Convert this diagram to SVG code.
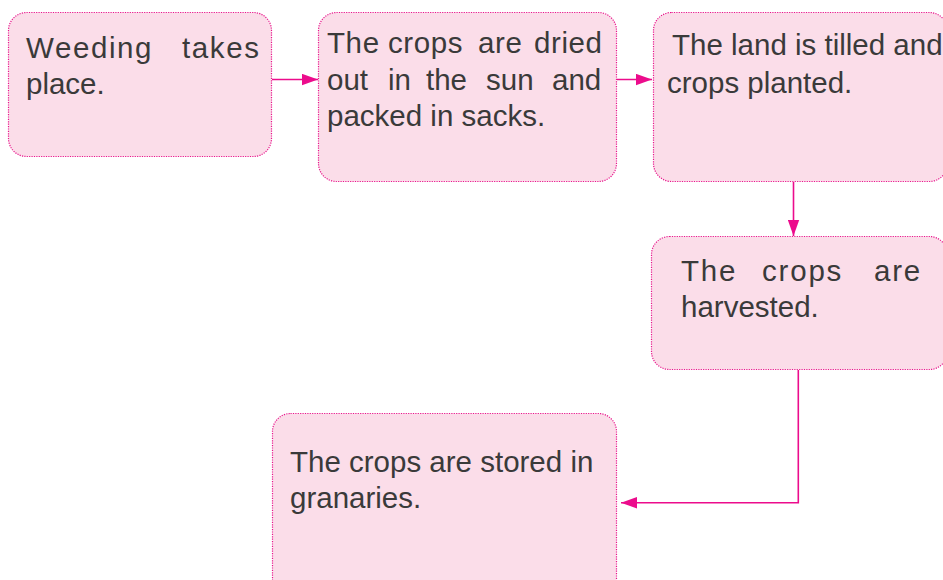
<svg xmlns="http://www.w3.org/2000/svg" width="943" height="580" viewBox="0 0 943 580">
<style>
.box{fill:#fbdde9;stroke:#e8168c;stroke-width:1.2;stroke-dasharray:1.2 1.2}
.t{font-family:"Liberation Sans",Arial,Helvetica,sans-serif;font-size:29.5px;fill:#3a3a3a}
.c{stroke:#ec0c8c;stroke-width:1.6;fill:none}
</style>
<defs>
<marker id="ah" markerWidth="16" markerHeight="12" refX="16" refY="6" orient="auto" markerUnits="userSpaceOnUse">
<path d="M0,0.3 L16,6 L0,11.7 Z" fill="#ec0c8c"/>
</marker>
</defs>
<rect width="943" height="580" fill="#ffffff"/>
<g id="connectors">
<line class="c" x1="272" y1="79.5" x2="318" y2="79.5" marker-end="url(#ah)"/>
<line class="c" x1="617" y1="79.5" x2="652" y2="79.5" marker-end="url(#ah)"/>
<line class="c" x1="793.5" y1="182" x2="793.5" y2="236" marker-end="url(#ah)"/>
<polyline class="c" points="798.3,370 798.3,502.7 621,502.7" marker-end="url(#ah)"/>
</g>
<g id="n1">
<rect class="box" x="8.5" y="12.5" width="263" height="144" rx="18"/>
<text class="t" y="58" letter-spacing="1.6"><tspan x="26">Weeding</tspan><tspan x="182">takes</tspan></text>
<text class="t" x="26" y="94">place.</text>
</g>
<g id="n2">
<rect class="box" x="318.5" y="12.5" width="298" height="169" rx="18"/>
<text class="t" y="53" letter-spacing="0.6"><tspan x="327">The</tspan><tspan x="388">crops</tspan><tspan x="478">are</tspan><tspan x="534">dried</tspan></text>
<text class="t" y="89.5"><tspan x="327">out</tspan><tspan x="388">in</tspan><tspan x="426">the</tspan><tspan x="486">sun</tspan><tspan x="552">and</tspan></text>
<text class="t" x="327" y="126">packed in sacks.</text>
</g>
<g id="n3">
<rect class="box" x="653.5" y="12.5" width="294" height="169" rx="18"/>
<text class="t" x="672" y="55">The land is tilled and</text>
<text class="t" x="667" y="92.5">crops planted.</text>
</g>
<g id="n4">
<rect class="box" x="651.5" y="236.5" width="296" height="133" rx="18"/>
<text class="t" y="281" letter-spacing="1.8"><tspan x="681">The</tspan><tspan x="762">crops</tspan><tspan x="874">are</tspan></text>
<text class="t" x="681" y="317">harvested.</text>
</g>
<g id="n5">
<rect class="box" x="272.5" y="413.5" width="344" height="190" rx="18"/>
<text class="t" x="290" y="472">The crops are stored in</text>
<text class="t" x="290" y="508">granaries.</text>
</g>
</svg>
